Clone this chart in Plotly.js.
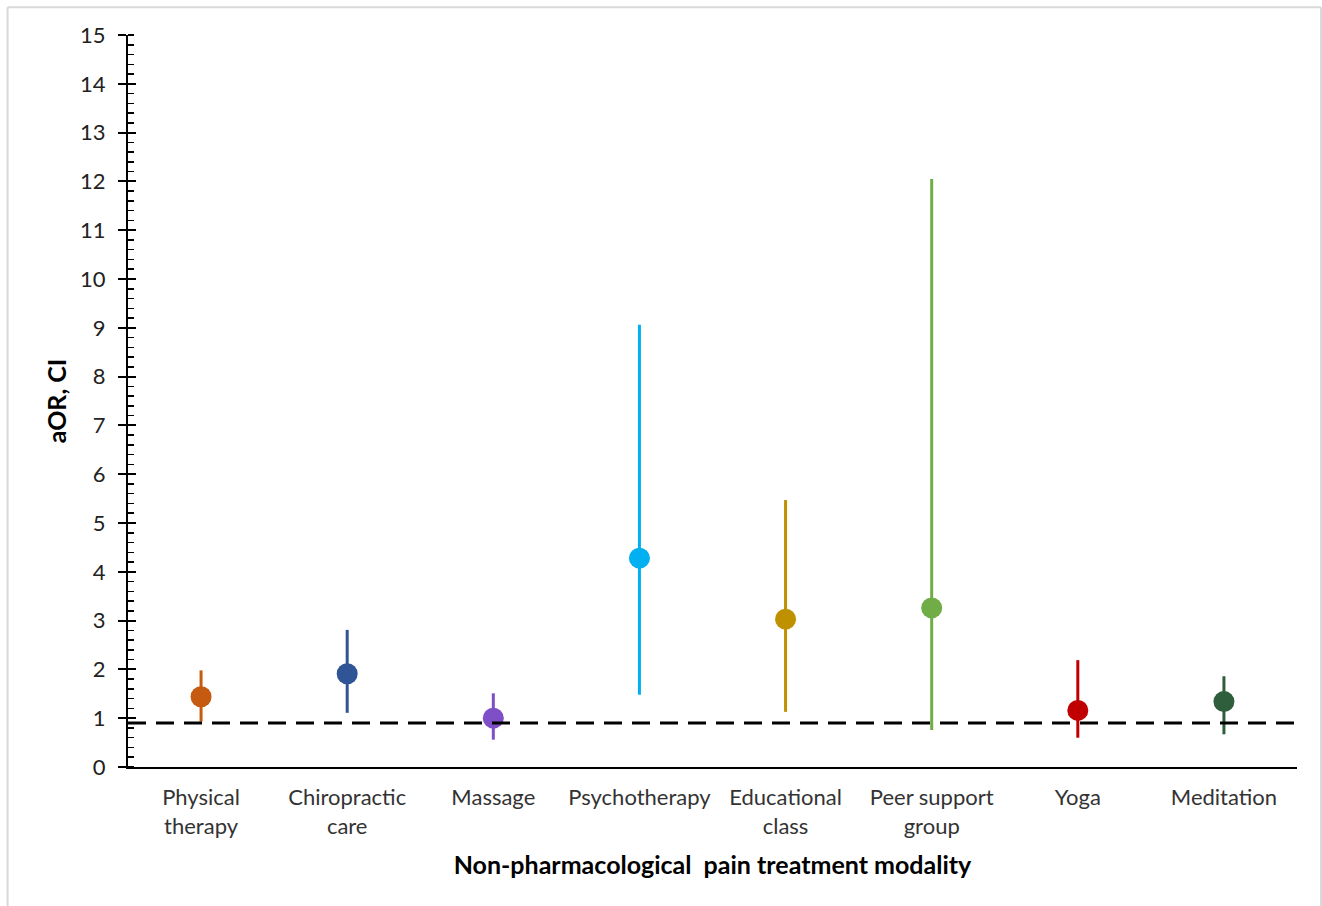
<!DOCTYPE html>
<html>
<head>
<meta charset="utf-8">
<script src="https://cdn.plot.ly/plotly-3.0.1.min.js"></script>
<style>html,body{margin:0;padding:0;background:#fff;}#chart{width:1322px;height:906px;}</style>
</head>
<body>
<div id="chart"></div>
<script>
const categories = ["Physical<br>therapy", "Chiropractic<br>care", "Massage", "Psychotherapy", "Educational<br>class", "Peer support<br>group", "Yoga", "Meditation"];
const aor = [1.44, 1.91, 1.00, 4.28, 3.03, 3.26, 1.16, 1.34];
const ciLow = [0.93, 1.11, 0.56, 1.48, 1.13, 0.76, 0.60, 0.67];
const ciHigh = [1.98, 2.81, 1.51, 9.06, 5.47, 12.05, 2.19, 1.86];
const colors = ["#C55A11", "#2F5597", "#7E4FC6", "#00B0F0", "#BF9000", "#70AD47", "#C00000", "#2E5E3C"];
const refValue = 0.9;

const font = "Lato, 'Open Sans', sans-serif";
const traces = categories.map((c, i) => ({
  type: "scatter",
  mode: "markers",
  x: [c],
  y: [aor[i]],
  marker: {color: colors[i], size: 21},
  error_y: {
    type: "data", symmetric: false,
    array: [ciHigh[i] - aor[i]],
    arrayminus: [aor[i] - ciLow[i]],
    color: colors[i], thickness: 3, width: 0
  },
  showlegend: false,
  hoverinfo: "x+y"
}));
// invisible trace to enable overlay axis
traces.push({type: "scatter", x: [categories[0]], y: [0], yaxis: "y2", mode: "markers", marker: {opacity: 0}, showlegend: false, hoverinfo: "skip"});

const layout = {
  width: 1322, height: 906,
  margin: {l: 128, r: 25, t: 35, b: 139},
  paper_bgcolor: "#ffffff", plot_bgcolor: "#ffffff",
  font: {family: font, color: "#222", size: 22},
  xaxis: {
    type: "category", categoryorder: "array", categoryarray: categories,
    range: [-0.5, 7.5], showgrid: false, zeroline: false,
    showline: true, linecolor: "#000", linewidth: 2,
    ticks: "", tickfont: {size: 22, color: "#333"}, ticklabelstandoff: 10,
    title: {text: "Non-pharmacological  pain treatment modality", font: {size: 25, color: "#000", family: font, weight: "bold"}, standoff: 18}
  },
  yaxis: {
    range: [0, 15], dtick: 1, tick0: 0, showgrid: false, zeroline: false,
    showline: true, linecolor: "#000", linewidth: 2,
    ticks: "outside", ticklen: 8, tickwidth: 2, tickcolor: "#000",
    minor: {dtick: 0.2, ticks: "inside", ticklen: 6, tickwidth: 1.5, tickcolor: "#000", showgrid: false},
    tickfont: {size: 22, color: "#222"}, ticklabelstandoff: 8,
    title: {text: "aOR, CI", font: {size: 25, color: "#000", family: font, weight: "bold"}, standoff: 6}
  },
  yaxis2: {
    overlaying: "y", side: "left", range: [0, 15], dtick: 1, tick0: 0,
    showgrid: false, zeroline: false, showline: false, showticklabels: false,
    ticks: "inside", ticklen: 8, tickwidth: 2, tickcolor: "#000"
  },
  shapes: [
    {type: "line", xref: "paper", x0: 0, x1: 1, yref: "y", y0: refValue, y1: refValue,
     line: {color: "#000", width: 3, dash: "18px,10px"}},
    {type: "line", xref: "paper", yref: "paper", x0: -0.103, x1: -0.103, y0: -0.19, y1: 1.038, line: {color: "#d9d9d9", width: 2}},
    {type: "line", xref: "paper", yref: "paper", x0: -0.103, x1: 1.0205, y0: 1.038, y1: 1.038, line: {color: "#d9d9d9", width: 2}},
    {type: "line", xref: "paper", yref: "paper", x0: 1.0205, x1: 1.0205, y0: -0.19, y1: 1.038, line: {color: "#d9d9d9", width: 2}}
  ]
};

Plotly.newPlot("chart", traces, layout, {displayModeBar: false, staticPlot: true});
</script>
</body>
</html>
